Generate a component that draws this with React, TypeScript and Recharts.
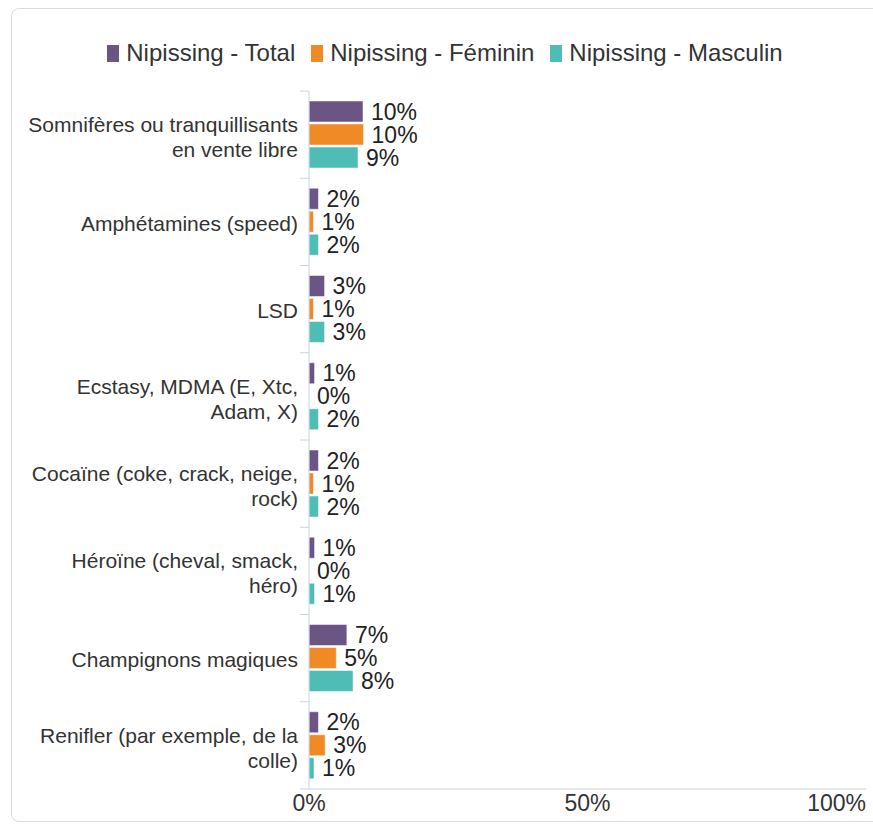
import React from 'react';
import { BarChart, Bar, XAxis, YAxis, LabelList } from 'recharts';

const categories = [
  'Somnifères ou tranquillisants en vente libre',
  'Amphétamines (speed)',
  'LSD',
  'Ecstasy, MDMA (E, Xtc, Adam, X)',
  'Cocaïne (coke, crack, neige, rock)',
  'Héroïne (cheval, smack, héro)',
  'Champignons magiques',
  'Renifler (par exemple, de la colle)',
];

const totalValues = [9.7, 1.7, 2.8, 1.0, 1.7, 1.0, 6.8, 1.7];
const femininValues = [9.8, 0.8, 0.8, 0, 0.8, 0, 4.9, 2.9];
const masculinValues = [8.8, 1.7, 2.8, 1.7, 1.7, 1.0, 7.9, 0.9];

const xTicks = [0, 50, 100];

const series = [
  { key: 'total', name: 'Nipissing - Total', color: '#6b5585' },
  { key: 'feminin', name: 'Nipissing - Féminin', color: '#f08a24' },
  { key: 'masculin', name: 'Nipissing - Masculin', color: '#4dbdb5' },
];

const data = categories.map((name, i) => ({
  name,
  total: totalValues[i],
  feminin: femininValues[i],
  masculin: masculinValues[i],
}));

const FONT = '"Liberation Sans", Arial, sans-serif';
const AXIS_COLOR = '#c8d3e3';
const LABEL_SIZE = 21;
const LABEL_WIDTH = 275;

let ctx: CanvasRenderingContext2D | null = null;
function wrap(str: string): string[] {
  if (!ctx) {
    ctx = document.createElement('canvas').getContext('2d');
    if (ctx) ctx.font = `${LABEL_SIZE}px ${FONT}`;
  }
  const words = str.split(' ');
  const lines: string[] = [];
  let cur = '';
  words.forEach((w) => {
    const next = cur ? cur + ' ' + w : w;
    if (cur && ctx && ctx.measureText(next).width > LABEL_WIDTH) {
      lines.push(cur);
      cur = w;
    } else {
      cur = next;
    }
  });
  if (cur) lines.push(cur);
  return lines;
}

const CategoryTick = (props: any) => {
  const { x, y, payload, index } = props;
  const half = payload.offset || 0;
  const lines = wrap(payload.value);
  const lh = 25;
  const startDy = -((lines.length - 1) * lh) / 2 + 9 + (lines.length > 1 ? 1 : 0);
  return (
    <g>
      <line x1={x - 9} x2={x} y1={y - half} y2={y - half} stroke={AXIS_COLOR} />
      {index === categories.length - 1 && (
        <line x1={x - 9} x2={x} y1={y + half} y2={y + half} stroke={AXIS_COLOR} />
      )}
      <text
        x={x - 11}
        y={y + startDy}
        textAnchor="end"
        fontSize={LABEL_SIZE}
        fontFamily={FONT}
        fill="#333"
      >
        {lines.map((l, i) => (
          <tspan key={i} x={x - 11} dy={i === 0 ? 0 : lh}>
            {l}
          </tspan>
        ))}
      </text>
    </g>
  );
};

const PercentTick = (props: any) => {
  const { x, y, payload } = props;
  const last = payload.value === xTicks[xTicks.length - 1];
  return (
    <text
      x={x}
      y={y}
      dy={14}
      textAnchor={last ? 'end' : 'middle'}
      fontSize={23}
      fontFamily={FONT}
      fill="#333"
    >
      {payload.value}%
    </text>
  );
};

const Legend = () => (
  <div
    style={{
      position: 'absolute',
      top: 39,
      left: 0,
      width: 873,
      display: 'flex',
      justifyContent: 'center',
      paddingLeft: 33,
      boxSizing: 'border-box',
      fontFamily: FONT,
      fontSize: 24,
      color: '#333',
    }}
  >
    {series.map((s) => (
      <div key={s.key} style={{ display: 'flex', alignItems: 'center', marginRight: 16 }}>
        <span style={{ width: 12, height: 17, background: s.color, marginRight: 7 }} />
        <span>{s.name}</span>
      </div>
    ))}
  </div>
);

export default function App() {
  return (
    <div style={{ position: 'relative', width: 873, height: 824, overflow: 'hidden' }}>
      <style>{'body{margin:0;overflow:hidden}'}</style>
      <div
        style={{
          position: 'absolute',
          left: 11,
          top: 8,
          width: 880,
          height: 812,
          border: '1px solid #dcdcdc',
          borderRadius: 8,
        }}
      />
      <Legend />
      <div style={{ position: 'absolute', left: 0, top: 0 }}>
        <BarChart
          width={873}
          height={824}
          data={data}
          layout="vertical"
          margin={{ top: 91, right: 7, bottom: 0, left: 9 }}
          barCategoryGap={10}
          barGap={2}
        >
          <XAxis
            type="number"
            domain={[0, 100]}
            ticks={xTicks}
            axisLine={{ stroke: AXIS_COLOR }}
            tickLine={false}
            height={35}
            tick={<PercentTick />}
            interval={0}
          />
          <YAxis
            type="category"
            dataKey="name"
            width={300}
            axisLine={{ stroke: AXIS_COLOR }}
            tickLine={false}
            tickSize={0}
            tickMargin={0}
            tick={<CategoryTick />}
            interval={0}
          />
          {series.map((s) => (
            <Bar
              key={s.key}
              dataKey={s.key}
              name={s.name}
              fill={s.color}
              stroke="#ffffff"
              strokeOpacity={0.5}
              minPointSize={0.01}
              isAnimationActive={false}
            >
              <LabelList
                dataKey={s.key}
                position="right"
                offset={8}
                formatter={(v: any) => `${Math.round(v)}%`}
                style={{ fontSize: 23, fontFamily: FONT, fill: '#222' }}
              />
            </Bar>
          ))}
        </BarChart>
      </div>
    </div>
  );
}
